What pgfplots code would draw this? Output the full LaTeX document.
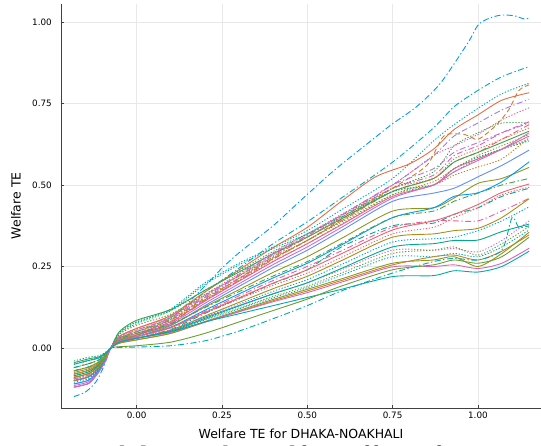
\documentclass[border=0pt]{standalone}
\usepackage{fontspec}
\setmainfont{DejaVu Sans}
\newfontfamily\notefont{Liberation Serif}
\usepackage{pgfplots}
\pgfplotsset{compat=1.18}
\definecolor{c1}{HTML}{009AFA}
\definecolor{c2}{HTML}{E36F47}
\definecolor{c3}{HTML}{3EA44E}
\definecolor{c4}{HTML}{C371D2}
\definecolor{c5}{HTML}{AC8D18}
\definecolor{c6}{HTML}{00A9AD}
\definecolor{c7}{HTML}{ED5E93}
\definecolor{c8}{HTML}{C68225}
\definecolor{c9}{HTML}{00A98D}
\definecolor{c10}{HTML}{8E971E}
\definecolor{c11}{HTML}{00A8CB}
\definecolor{c12}{HTML}{9B7FE9}
\definecolor{c13}{HTML}{618DF6}
\definecolor{c14}{HTML}{F06171}
\definecolor{c15}{HTML}{DC63BB}
\definecolor{c16}{HTML}{6C9E33}
\tikzset{
  sol/.style={solid},
  dt/.style={dash pattern=on 1.3bp off 1.7bp},
  dd/.style={dash pattern=on 6bp off 2.5bp on 1.3bp off 2.5bp},
  ds/.style={dash pattern=on 5bp off 3bp},
}
\begin{document}
\begin{tikzpicture}
\begin{axis}[
  at={(0,0)}, anchor=south west,
  scale only axis, width=480bp, height=404.3bp,
  xmin=-0.2217, xmax=1.1848, ymin=-0.184, ymax=1.056,
  axis lines*=left,
  axis line style={line width=0.9bp, black!75},
  xtick={0,0.25,0.5,0.75,1}, ytick={0,0.25,0.5,0.75,1},
  xticklabels={0.00,0.25,0.50,0.75,1.00},
  yticklabels={0.00,0.25,0.50,0.75,1.00},
  tick align=inside, major tick length=3.5bp,
  tick style={line width=0.7bp, black!75},
  grid=major, grid style={line width=0.6bp, black!9},
  ticklabel style={font=\fontsize{8.8bp}{10bp}\selectfont},
  xticklabel style={anchor=north, inner sep=0pt, yshift=-4bp},
  yticklabel style={anchor=east, inner sep=0pt, xshift=-9bp},
  xlabel={Welfare TE for DHAKA-NOAKHALI},
  ylabel={Welfare TE},
  label style={font=\fontsize{12.5bp}{14bp}\selectfont},
  xlabel style={at={(axis description cs:0.5,-0.0742)}, anchor=base, inner sep=0pt},
  ylabel style={at={(axis description cs:-0.09375,0.5)}, anchor=center, inner sep=0pt},
  every axis plot/.append style={line width=0.9bp, smooth, tension=0.45},
]
\addplot[c1, dd] coordinates {(-0.184,-0.149)(-0.15,-0.135)(-0.12,-0.105)(-0.1,-0.065)(-0.085,-0.025)(-0.076,0)(-0.05,0.02)(0,0.04)(0.1,0.09)(0.2,0.19)(0.25,0.245)(0.3,0.292)(0.4,0.375)(0.48,0.452)(0.58,0.546)(0.68,0.63)(0.745,0.684)(0.82,0.74)(0.89,0.812)(0.97,0.935)(1.0,0.99)(1.03,1.01)(1.067,1.021)(1.106,1.019)(1.136,1.009)(1.151,1.012)};
\addplot[c11, dd] coordinates {(-0.184,-0.07)(-0.14,-0.058)(-0.11,-0.042)(-0.09,-0.021)(-0.076,0)(-0.05,0.03)(0,0.05)(0.1,0.094)(0.2,0.171)(0.3,0.245)(0.4,0.32)(0.5,0.387)(0.6,0.46)(0.75,0.57)(0.87,0.675)(0.93,0.74)(1.0,0.79)(1.07,0.832)(1.15,0.863)};
\addplot[c11, dt] coordinates {(-0.184,-0.05)(-0.14,-0.038)(-0.11,-0.03)(-0.09,-0.015)(-0.076,0)(-0.05,0.048)(0,0.08)(0.1,0.12)(0.2,0.2)(0.3,0.26)(0.4,0.31)(0.5,0.36)(0.6,0.424)(0.75,0.52)(0.87,0.635)(0.93,0.685)(1.0,0.735)(1.07,0.78)(1.15,0.812)};
\addplot[c2, sol] coordinates {(-0.184,-0.09)(-0.14,-0.078)(-0.11,-0.054)(-0.09,-0.027)(-0.076,0)(-0.05,0.036)(0,0.06)(0.1,0.1)(0.2,0.172)(0.3,0.24)(0.4,0.308)(0.5,0.37)(0.6,0.45)(0.7,0.525)(0.8,0.565)(0.87,0.61)(0.93,0.67)(1.0,0.715)(1.07,0.76)(1.15,0.783)};
\addplot[c12, dd] coordinates {(-0.184,-0.1)(-0.14,-0.088)(-0.11,-0.06)(-0.09,-0.03)(-0.076,0)(-0.05,0.03)(0,0.05)(0.1,0.088)(0.2,0.156)(0.3,0.221)(0.4,0.286)(0.5,0.345)(0.6,0.407)(0.75,0.5)(0.87,0.59)(0.93,0.65)(1.0,0.69)(1.07,0.73)(1.15,0.763)};
\addplot[c7, dt] coordinates {(-0.184,-0.08)(-0.14,-0.068)(-0.11,-0.048)(-0.09,-0.024)(-0.076,0)(-0.05,0.036)(0,0.06)(0.1,0.098)(0.2,0.164)(0.3,0.228)(0.4,0.292)(0.5,0.35)(0.6,0.41)(0.75,0.5)(0.87,0.59)(0.93,0.62)(1.0,0.655)(1.07,0.7)(1.15,0.737)};
\addplot[c8, ds] coordinates {(-0.184,-0.06)(-0.14,-0.048)(-0.11,-0.036)(-0.09,-0.018)(-0.076,0)(-0.05,0.03)(0,0.05)(0.1,0.086)(0.2,0.151)(0.3,0.212)(0.4,0.274)(0.5,0.33)(0.6,0.394)(0.75,0.49)(0.85,0.56)(0.9,0.65)(0.96,0.655)(1.0,0.64)(1.05,0.68)(1.09,0.73)(1.12,0.79)(1.15,0.807)};
\addplot[c15, dd] coordinates {(-0.184,-0.11)(-0.14,-0.098)(-0.11,-0.066)(-0.09,-0.033)(-0.076,0)(-0.05,0.024)(0,0.04)(0.1,0.079)(0.2,0.148)(0.3,0.214)(0.4,0.28)(0.5,0.34)(0.6,0.4)(0.75,0.49)(0.87,0.53)(0.93,0.59)(1.0,0.62)(1.07,0.66)(1.15,0.694)};
\addplot[c3, dt] coordinates {(-0.184,-0.05)(-0.14,-0.038)(-0.11,-0.03)(-0.09,-0.015)(-0.076,0)(-0.05,0.048)(0,0.08)(0.1,0.115)(0.2,0.177)(0.3,0.237)(0.4,0.296)(0.5,0.35)(0.6,0.406)(0.75,0.49)(0.87,0.54)(0.93,0.62)(1.0,0.66)(1.07,0.69)(1.15,0.69)};
\addplot[c14, dd] coordinates {(-0.184,-0.12)(-0.14,-0.108)(-0.11,-0.072)(-0.09,-0.036)(-0.076,0)(-0.05,0.024)(0,0.04)(0.1,0.078)(0.2,0.144)(0.3,0.208)(0.4,0.272)(0.5,0.33)(0.6,0.39)(0.75,0.48)(0.87,0.52)(0.93,0.57)(1.0,0.6)(1.07,0.64)(1.15,0.685)};
\addplot[c8, dt] coordinates {(-0.184,-0.07)(-0.14,-0.058)(-0.11,-0.042)(-0.09,-0.021)(-0.076,0)(-0.05,0.033)(0,0.055)(0.1,0.091)(0.2,0.154)(0.3,0.215)(0.4,0.275)(0.5,0.33)(0.6,0.39)(0.75,0.48)(0.87,0.5)(0.93,0.53)(1.0,0.555)(1.07,0.58)(1.15,0.645)};
\addplot[c3, sol] coordinates {(-0.184,-0.045)(-0.14,-0.033)(-0.11,-0.027)(-0.09,-0.014)(-0.076,0)(-0.05,0.051)(0,0.085)(0.1,0.118)(0.2,0.177)(0.3,0.233)(0.4,0.289)(0.5,0.34)(0.6,0.396)(0.75,0.48)(0.87,0.52)(0.93,0.57)(1.0,0.6)(1.07,0.63)(1.15,0.665)};
\addplot[c10, dt] coordinates {(-0.184,-0.09)(-0.14,-0.078)(-0.11,-0.054)(-0.09,-0.027)(-0.076,0)(-0.05,0.03)(0,0.05)(0.1,0.085)(0.2,0.147)(0.3,0.207)(0.4,0.266)(0.5,0.32)(0.6,0.38)(0.75,0.47)(0.87,0.51)(0.93,0.55)(1.0,0.59)(1.07,0.62)(1.15,0.655)};
\addplot[c16, dt] coordinates {(-0.184,-0.06)(-0.14,-0.048)(-0.11,-0.036)(-0.09,-0.018)(-0.076,0)(-0.05,0.042)(0,0.07)(0.1,0.104)(0.2,0.164)(0.3,0.221)(0.4,0.278)(0.5,0.33)(0.6,0.386)(0.75,0.47)(0.87,0.5)(0.93,0.54)(1.0,0.58)(1.07,0.61)(1.15,0.64)};
\addplot[c9, dt] coordinates {(-0.184,-0.04)(-0.14,-0.028)(-0.11,-0.024)(-0.09,-0.012)(-0.076,0)(-0.05,0.045)(0,0.075)(0.1,0.115)(0.2,0.195)(0.3,0.255)(0.4,0.305)(0.5,0.35)(0.6,0.402)(0.75,0.48)(0.87,0.5)(0.93,0.55)(1.0,0.585)(1.07,0.61)(1.15,0.635)};
\addplot[c7, sol] coordinates {(-0.184,-0.1)(-0.14,-0.088)(-0.11,-0.06)(-0.09,-0.03)(-0.076,0)(-0.05,0.027)(0,0.045)(0.1,0.081)(0.2,0.144)(0.3,0.205)(0.4,0.265)(0.5,0.32)(0.6,0.378)(0.75,0.465)(0.87,0.5)(0.93,0.55)(1.0,0.58)(1.07,0.61)(1.15,0.65)};
\addplot[c4, sol] coordinates {(-0.184,-0.115)(-0.14,-0.103)(-0.11,-0.069)(-0.09,-0.035)(-0.076,0)(-0.05,0.024)(0,0.04)(0.1,0.075)(0.2,0.137)(0.3,0.197)(0.4,0.256)(0.5,0.31)(0.6,0.37)(0.75,0.46)(0.87,0.5)(0.93,0.54)(1.0,0.575)(1.07,0.61)(1.15,0.66)};
\addplot[c2, dt] coordinates {(-0.184,-0.085)(-0.14,-0.073)(-0.11,-0.051)(-0.09,-0.026)(-0.076,0)(-0.05,0.036)(0,0.06)(0.1,0.096)(0.2,0.161)(0.3,0.222)(0.4,0.284)(0.5,0.34)(0.6,0.4)(0.75,0.49)(0.87,0.52)(0.93,0.58)(1.0,0.61)(1.07,0.64)(1.15,0.675)};
\addplot[c4, dd] coordinates {(-0.184,-0.095)(-0.14,-0.083)(-0.11,-0.057)(-0.09,-0.029)(-0.076,0)(-0.05,0.033)(0,0.055)(0.1,0.093)(0.2,0.16)(0.3,0.225)(0.4,0.29)(0.5,0.345)(0.6,0.407)(0.75,0.5)(0.87,0.55)(0.93,0.6)(1.0,0.63)(1.07,0.66)(1.15,0.69)};
\addplot[c13, sol] coordinates {(-0.184,-0.12)(-0.14,-0.108)(-0.11,-0.072)(-0.09,-0.036)(-0.076,0)(-0.05,0.021)(0,0.035)(0.1,0.069)(0.2,0.13)(0.3,0.189)(0.4,0.247)(0.5,0.3)(0.6,0.36)(0.75,0.45)(0.87,0.475)(0.93,0.49)(1.0,0.525)(1.07,0.56)(1.15,0.607)};
\addplot[c10, sol] coordinates {(-0.184,-0.1)(-0.14,-0.088)(-0.11,-0.06)(-0.09,-0.03)(-0.076,0)(-0.05,0.024)(0,0.04)(0.1,0.071)(0.2,0.126)(0.3,0.179)(0.4,0.232)(0.5,0.28)(0.6,0.336)(0.75,0.42)(0.87,0.43)(0.93,0.46)(1.0,0.505)(1.07,0.52)(1.15,0.554)};
\addplot[c1, sol] coordinates {(-0.184,-0.11)(-0.14,-0.098)(-0.11,-0.066)(-0.09,-0.033)(-0.076,0)(-0.05,0.021)(0,0.035)(0.1,0.064)(0.2,0.116)(0.3,0.166)(0.4,0.215)(0.5,0.26)(0.6,0.316)(0.75,0.4)(0.87,0.43)(0.93,0.465)(1.0,0.476)(1.07,0.51)(1.15,0.571)};
\addplot[c9, dd] coordinates {(-0.184,-0.08)(-0.14,-0.068)(-0.11,-0.048)(-0.09,-0.024)(-0.076,0)(-0.05,0.018)(0,0.03)(0.1,0.057)(0.2,0.106)(0.3,0.152)(0.4,0.198)(0.5,0.24)(0.6,0.31)(0.75,0.375)(0.87,0.383)(0.93,0.41)(1.0,0.43)(1.07,0.465)(1.15,0.49)};
\addplot[c3, dd] coordinates {(-0.184,-0.07)(-0.14,-0.058)(-0.11,-0.042)(-0.09,-0.021)(-0.076,0)(-0.05,0.027)(0,0.045)(0.1,0.074)(0.2,0.124)(0.3,0.173)(0.4,0.221)(0.5,0.265)(0.6,0.32)(0.75,0.4)(0.87,0.42)(0.93,0.45)(1.0,0.475)(1.07,0.5)(1.15,0.52)};
\addplot[c14, sol] coordinates {(-0.184,-0.1)(-0.14,-0.088)(-0.11,-0.06)(-0.09,-0.03)(-0.076,0)(-0.05,0.021)(0,0.035)(0.1,0.062)(0.2,0.109)(0.3,0.154)(0.4,0.199)(0.5,0.24)(0.6,0.289)(0.75,0.362)(0.87,0.39)(0.93,0.41)(1.0,0.44)(1.07,0.477)(1.15,0.503)};
\addplot[c14, dt] coordinates {(-0.184,-0.095)(-0.14,-0.083)(-0.11,-0.057)(-0.09,-0.029)(-0.076,0)(-0.05,0.024)(0,0.04)(0.1,0.065)(0.2,0.108)(0.3,0.15)(0.4,0.192)(0.5,0.23)(0.6,0.278)(0.75,0.35)(0.87,0.37)(0.93,0.4)(1.0,0.43)(1.07,0.47)(1.15,0.493)};
\addplot[c7, dd] coordinates {(-0.184,-0.09)(-0.14,-0.078)(-0.11,-0.054)(-0.09,-0.027)(-0.076,0)(-0.05,0.021)(0,0.035)(0.1,0.063)(0.2,0.112)(0.3,0.16)(0.4,0.207)(0.5,0.25)(0.6,0.298)(0.75,0.37)(0.87,0.39)(0.93,0.39)(1.0,0.39)(1.07,0.42)(1.15,0.459)};
\addplot[c5, sol] coordinates {(-0.184,-0.08)(-0.14,-0.068)(-0.11,-0.048)(-0.09,-0.024)(-0.076,0)(-0.05,0.018)(0,0.03)(0.1,0.055)(0.2,0.098)(0.3,0.14)(0.4,0.182)(0.5,0.22)(0.6,0.268)(0.75,0.34)(0.87,0.35)(0.93,0.36)(1.0,0.367)(1.07,0.4)(1.15,0.458)};
\addplot[c1, dt] coordinates {(-0.184,-0.1)(-0.14,-0.088)(-0.11,-0.06)(-0.09,-0.03)(-0.076,0)(-0.05,0.018)(0,0.03)(0.1,0.053)(0.2,0.095)(0.3,0.134)(0.4,0.174)(0.5,0.21)(0.6,0.256)(0.75,0.325)(0.87,0.335)(0.93,0.34)(1.0,0.36)(1.07,0.39)(1.15,0.433)};
\addplot[c4, dt] coordinates {(-0.184,-0.095)(-0.14,-0.083)(-0.11,-0.057)(-0.09,-0.029)(-0.076,0)(-0.05,0.021)(0,0.035)(0.1,0.056)(0.2,0.094)(0.3,0.131)(0.4,0.167)(0.5,0.2)(0.6,0.24)(0.75,0.3)(0.87,0.3)(0.93,0.305)(1.0,0.295)(1.07,0.33)(1.15,0.39)};
\addplot[c9, sol] coordinates {(-0.184,-0.085)(-0.14,-0.073)(-0.11,-0.051)(-0.09,-0.026)(-0.076,0)(-0.05,0.018)(0,0.03)(0.1,0.052)(0.2,0.091)(0.3,0.129)(0.4,0.166)(0.5,0.2)(0.6,0.244)(0.75,0.31)(0.87,0.32)(0.93,0.33)(1.0,0.331)(1.07,0.357)(1.15,0.38)};
\addplot[c16, dt] coordinates {(-0.184,-0.1)(-0.14,-0.088)(-0.11,-0.06)(-0.09,-0.03)(-0.076,0)(-0.05,0.018)(0,0.03)(0.1,0.051)(0.2,0.088)(0.3,0.123)(0.4,0.158)(0.5,0.19)(0.6,0.23)(0.75,0.29)(0.87,0.3)(0.93,0.31)(1.0,0.285)(1.07,0.32)(1.15,0.372)};
\addplot[c11, dt] coordinates {(-0.184,-0.105)(-0.14,-0.093)(-0.11,-0.063)(-0.09,-0.032)(-0.076,0)(-0.05,0.018)(0,0.03)(0.1,0.05)(0.2,0.086)(0.3,0.12)(0.4,0.154)(0.5,0.185)(0.6,0.223)(0.75,0.28)(0.87,0.28)(0.93,0.29)(1.0,0.28)(1.07,0.31)(1.15,0.362)};
\addplot[c8, sol] coordinates {(-0.184,-0.075)(-0.14,-0.063)(-0.11,-0.045)(-0.09,-0.023)(-0.076,0)(-0.05,0.015)(0,0.025)(0.1,0.045)(0.2,0.079)(0.3,0.112)(0.4,0.145)(0.5,0.175)(0.6,0.207)(0.75,0.255)(0.87,0.28)(0.93,0.285)(1.0,0.27)(1.07,0.297)(1.15,0.347)};
\addplot[c10, sol] coordinates {(-0.184,-0.09)(-0.14,-0.078)(-0.11,-0.054)(-0.09,-0.027)(-0.076,0)(-0.05,0.015)(0,0.025)(0.1,0.045)(0.2,0.081)(0.3,0.115)(0.4,0.149)(0.5,0.18)(0.6,0.212)(0.75,0.26)(0.87,0.27)(0.93,0.28)(1.0,0.25)(1.07,0.29)(1.15,0.355)};
\addplot[c15, sol] coordinates {(-0.184,-0.12)(-0.14,-0.108)(-0.11,-0.072)(-0.09,-0.036)(-0.076,0)(-0.05,0.018)(0,0.03)(0.1,0.048)(0.2,0.08)(0.3,0.111)(0.4,0.142)(0.5,0.17)(0.6,0.202)(0.75,0.249)(0.87,0.25)(0.93,0.255)(1.0,0.244)(1.07,0.26)(1.15,0.306)};
\addplot[c6, sol] coordinates {(-0.184,-0.05)(-0.14,-0.038)(-0.11,-0.03)(-0.09,-0.015)(-0.076,0)(-0.05,0.018)(0,0.03)(0.1,0.05)(0.2,0.08)(0.3,0.105)(0.4,0.13)(0.5,0.155)(0.6,0.18)(0.75,0.219)(0.87,0.222)(0.93,0.237)(1.0,0.233)(1.07,0.25)(1.15,0.297)};
\addplot[c16, sol] coordinates {(-0.184,-0.07)(-0.14,-0.058)(-0.11,-0.042)(-0.09,-0.021)(-0.076,0)(-0.05,0.004)(0,0.007)(0.1,0.018)(0.2,0.045)(0.3,0.08)(0.4,0.115)(0.5,0.15)(0.6,0.19)(0.75,0.24)(0.87,0.255)(0.93,0.27)(1.0,0.26)(1.07,0.28)(1.15,0.34)};
\addplot[c6, dd] coordinates {(-0.184,-0.06)(-0.14,-0.048)(-0.11,-0.036)(-0.09,-0.018)(-0.076,0)(-0.05,0.002)(0,0.003)(0.1,0.007)(0.2,0.022)(0.3,0.052)(0.4,0.09)(0.5,0.13)(0.6,0.175)(0.75,0.23)(0.87,0.265)(0.93,0.275)(1.0,0.27)(1.07,0.3)(1.1,0.4)(1.12,0.37)(1.15,0.375)};
\end{axis}
\node[anchor=north west, inner sep=0pt, text=black!85, font=\notefont\fontsize{28bp}{30bp}\selectfont] at (-55bp,-37.5bp) {Note: Each line is the welfare effect of a};
\pgfresetboundingbox
\useasboundingbox (-61bp,-38bp) rectangle (480bp,408bp);
\end{tikzpicture}
\end{document}
